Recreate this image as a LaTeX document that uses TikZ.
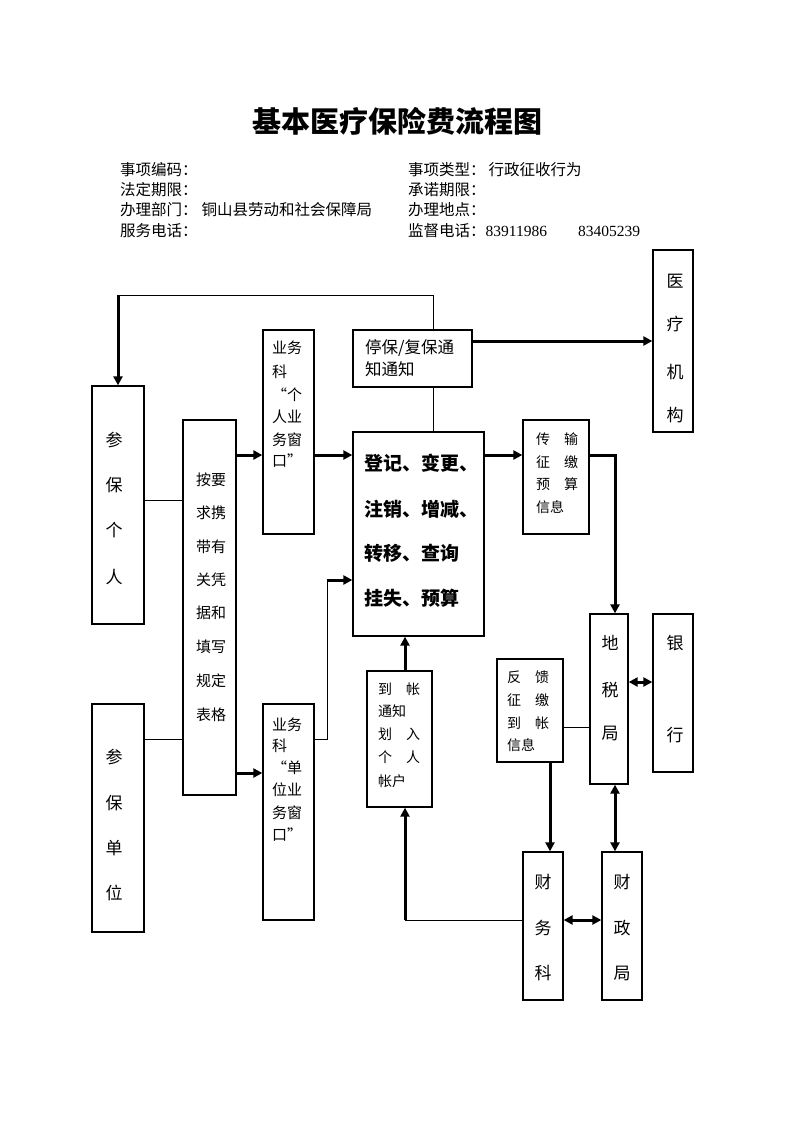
\documentclass[tikz,border=0pt]{standalone}
\usepackage{fontspec}
\setmainfont{Noto Sans CJK SC}
\newfontfamily\numfont{Liberation Serif}
\usetikzlibrary{arrows.meta}
\tikzset{
  box/.style={draw, line width=1.3pt, inner sep=0pt, rectangle},
  thinln/.style={line width=0.9pt},
  thickln/.style={line width=3pt},
  tip/.tip={Triangle[length=9pt,width=9pt]},
  arr/.style={thickln, -tip},
  darr/.style={thickln, tip-tip},
  txt/.style={inner sep=0pt, font=\fontsize{15}{15}\selectfont},
  big/.style={inner sep=0pt, font=\fontsize{17}{17}\selectfont},
  sm/.style={inner sep=0pt, anchor=west, font=\fontsize{14}{14}\selectfont},
  hd/.style={inner sep=0pt, anchor=west, font=\fontsize{15.5}{15.5}\selectfont},
}
\begin{document}
\begin{tikzpicture}[x=1pt,y=-1pt]
\useasboundingbox (0,0) rectangle (793,1122);
% header
\node[inner sep=0pt, font=\fontsize{29}{29}\selectfont\bfseries] (title) at (397,121) {基本医疗保险费流程图};
\node[hd] (h1) at (120,170) {事项编码：};
\node[hd] (h2) at (120,190) {法定期限：};
\node[hd] (h3) at (120,210) {办理部门：\hspace{4pt}铜山县劳动和社会保障局};
\node[hd] (h4) at (120,231) {服务电话：};
\node[hd] (h5) at (408,170) {事项类型：\hspace{3pt}行政征收行为};
\node[hd] (h6) at (408,190) {承诺期限：};
\node[hd] (h7) at (408,210) {办理地点：};
\node[hd] (h8) at (408,231) {监督电话：{\numfont 83911986\hspace{31pt}83405239}};

% boxes
\node[box, minimum width=40pt, minimum height=182pt] (yl) at (673,341) {};
\node[box, minimum width=119pt, minimum height=57pt] (tb) at (412.5,358.5) {};
\node[box, minimum width=51pt, minimum height=204pt] (gr) at (288.5,432) {};
\node[box, minimum width=52pt, minimum height=238pt] (cbgr) at (118,505) {};
\node[box, minimum width=53pt, minimum height=375pt] (ay) at (209.5,607.5) {};
\node[box, minimum width=131pt, minimum height=204pt] (dj) at (418.5,534) {};
\node[box, minimum width=66pt, minimum height=114pt] (cs) at (556,477) {};
\node[box, minimum width=38pt, minimum height=170pt] (ds) at (609,699) {};
\node[box, minimum width=40pt, minimum height=158pt] (yh) at (673,693) {};
\node[box, minimum width=66pt, minimum height=103pt] (fk) at (530,710.5) {};
\node[box, minimum width=40pt, minimum height=148pt] (cw) at (543,926) {};
\node[box, minimum width=40pt, minimum height=148pt] (cz) at (622,926) {};
\node[box, minimum width=65pt, minimum height=136pt] (dz) at (399.5,739) {};
\node[box, minimum width=52pt, minimum height=228pt] (cbdw) at (118,818) {};
\node[box, minimum width=51pt, minimum height=216pt] (dw) at (288.5,812) {};

% texts
\foreach \c/\y [count=\i] in {医/281,疗/324,机/372,构/415} \node[big] (yl\i) at (675,\y) {\c};
\foreach \c/\y [count=\i] in {参/440,保/485,个/530,人/577} \node[big] (cg\i) at (114,\y) {\c};
\foreach \c/\y [count=\i] in {参/757,保/803,单/848,位/893} \node[big] (cd\i) at (114,\y) {\c};
\foreach \c/\y [count=\i] in {地/643,税/690,局/733} \node[big] (ds\i) at (610,\y) {\c};
\foreach \c/\y [count=\i] in {银/643,行/735} \node[big] (yh\i) at (675,\y) {\c};
\foreach \c/\y [count=\i] in {财/882,务/928,科/973} \node[big] (cw\i) at (543,\y) {\c};
\foreach \c/\y [count=\i] in {财/882,政/928,局/973} \node[big] (cz\i) at (622,\y) {\c};
\foreach \c/\y [count=\i] in {按要/480,求携/513,带有/547,关凭/580,据和/613,填写/647,规定/681,表格/715} \node[txt] (ay\i) at (211,\y) {\c};
\foreach \c/\y [count=\i] in {业务/348,科/372,“个/395,人业/417,务窗/440,口”/461} \node[txt,anchor=west] (gr\i) at (272,\y) {\c};
\foreach \c/\y [count=\i] in {业务/725,科/746,“单/768,位业/790,务窗/813,口”/835} \node[txt,anchor=west] (dw\i) at (272,\y) {\c};
\node[inner sep=0pt,anchor=west,font=\fontsize{16.5}{16.5}\selectfont] (tb1) at (365,348) {停保/复保通};
\node[inner sep=0pt,anchor=west,font=\fontsize{16.5}{16.5}\selectfont] (tb2) at (365,369) {知通知};
\foreach \c/\y [count=\i] in {登记、变更、/463,注销、增减、/509,转移、查询/553,挂失、预算/598} \node[inner sep=0pt,anchor=west,font=\fontsize{19}{19}\selectfont\bfseries] (dj\i) at (364,\y) {\c};
\foreach \c/\y [count=\i] in {传　输/439,征　缴/462,预　算/484,信息/507} \node[sm] (cs\i) at (536,\y) {\c};
\foreach \c/\y [count=\i] in {反　馈/677,征　缴/700,到　帐/723,信息/745} \node[sm] (fk\i) at (507,\y) {\c};
\foreach \c/\y [count=\i] in {到　帐/689,通知/711,划　入/734,个　人/757,帐户/781} \node[sm] (dz\i) at (378,\y) {\c};

% connectors
\coordinate (c1) at (433,295);
\coordinate (c2) at (118,295);
\draw[thinln] (tb.north -| c1) -- (c1) -- (c2);
\draw[arr] (c2) -- (cbgr.north);
\draw[arr] (tb.east |- 0,341) -- (yl.west |- 0,341);
\draw[thinln] (tb.south -| c1) -- (dj.north -| c1);
\draw[thinln] (cbgr.east |- 0,500) -- (ay.west |- 0,500);
\draw[arr] (ay.east |- 0,455) -- (gr.west |- 0,455);
\draw[arr] (gr.east |- 0,455) -- (dj.west |- 0,455);
\draw[arr] (dj.east |- 0,455) -- (cs.west |- 0,455);
\coordinate (c3) at (615,455);
\draw[arr] (cs.east |- c3) -| (ds.north -| c3);
\draw[darr] (ds.east |- 0,682) -- (yh.west |- 0,682);
\draw[thinln] (fk.east |- 0,727) -- (ds.west |- 0,727);
\draw[arr] (fk.south -| 550,0) -- (cw.north -| 550,0);
\draw[darr] (ds.south -| c3) -- (cz.north -| c3);
\draw[darr] (cw.east |- 0,920) -- (cz.west |- 0,920);
\coordinate (c4) at (405,920);
\draw[thinln] (cw.west |- c4) -- (c4);
\draw[arr] (c4) -- (dz.south -| c4);
\draw[arr] (dz.north -| c4) -- (dj.south -| c4);
\draw[thinln] (cbdw.east |- 0,739) -- (ay.west |- 0,739);
\draw[arr] (ay.east |- 0,773) -- (dw.west |- 0,773);
\coordinate (c5) at (327,739);
\coordinate (c6) at (327,580);
\draw[thinln] (dw.east |- c5) -- (c5) -- (c6);
\draw[arr] (c6) -- (dj.west |- c6);
\end{tikzpicture}
\end{document}
